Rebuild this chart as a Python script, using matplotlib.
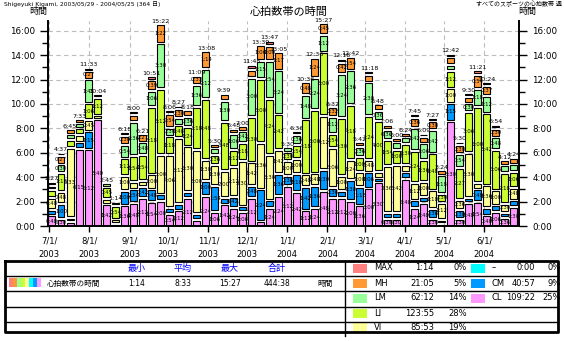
import numpy as np
import matplotlib.pyplot as plt

plt.rcParams['font.family'] = ['DejaVu Sans', 'Noto Sans CJK JP']

# weekly hours per heart rate zone (one value per week, 52 weeks)
CL = [0.8, 0.5, 0.25, 6.25, 6.2, 8.67, 1.7, 0.1, 1.6, 1.8,
      2.2, 1.9, 2.0, 0.9, 1.2, 2.2, 0.4, 2.4, 1.1, 1.7,
      1.4, 1.1, 2.2, 0.3, 1.4, 2.4, 3.2, 2.7, 1.2, 1.4,
      2.8, 2.2, 2.2, 2.0, 1.6, 3.0, 3.5, 0.5, 0.5, 3.8,
      1.4, 1.8, 0.5, 0.1, 8.5, 0.5, 1.8, 1.9, 0.8, 1.1,
      0.6, 1.5]
CM = [0.2, 1.0, 0.1, 0.3, 1.25, 0.0, 0.0, 0.0, 1.0, 0.9,
      0.7, 0.8, 0.3, 0.3, 0.3, 0.3, 0.3, 1.0, 1.9, 0.3,
      0.7, 0.2, 0.8, 2.4, 0.4, 1.6, 0.6, 1.3, 1.7, 1.6,
      1.5, 0.6, 0.4, 1.5, 1.3, 1.1, 0.1, 0.3, 0.3, 0.3,
      0.4, 0.3, 0.6, 0.1, 1.25, 0.5, 0.2, 0.8, 0.4, 0.3,
      0.2, 0.3]
VI = [0.8, 0.8, 5.55, 0.4, 0.75, 0.1, 0.2, 0.15, 1.0, 0.4,
      0.3, 1.0, 3.0, 4.1, 5.2, 3.5, 5.0, 1.5, 1.5, 2.0,
      2.2, 3.5, 1.7, 3.6, 3.5, 1.7, 1.0, 1.0, 0.8, 0.8,
      4.2, 3.1, 1.0, 1.4, 1.0, 0.8, 0.3, 3.6, 3.7, 0.4,
      1.2, 1.0, 1.3, 1.2, 1.0, 0.6, 3.5, 0.3, 1.6, 1.0,
      0.5, 0.8]
LI = [0.4, 1.3, 0.4, 0.3, 1.1, 1.2, 0.75, 0.9, 1.2, 1.9,
      1.9, 5.3, 5.2, 1.3, 0.8, 1.4, 3.3, 4.8, 0.6, 3.8,
      1.2, 1.3, 3.5, 5.0, 4.4, 2.7, 0.5, 0.9, 4.3, 5.0,
      5.0, 0.9, 4.5, 4.3, 1.0, 3.4, 4.0, 1.9, 1.0, 1.5,
      2.4, 1.6, 2.8, 0.5, 1.2, 2.45, 3.1, 6.0, 5.7, 3.1,
      2.3, 1.1]
LM = [0.15, 0.5, 0.25, 0.2, 1.75, 0.1, 0.1, 0.08, 0.9, 2.6,
      0.8, 1.1, 3.5, 0.5, 0.4, 0.6, 1.6, 2.2, 0.3, 1.5,
      1.1, 0.7, 3.0, 1.25, 2.9, 3.4, 0.2, 0.6, 1.8, 2.4,
      1.2, 1.2, 3.4, 2.6, 0.6, 2.5, 0.6, 0.6, 0.4, 0.3,
      1.7, 1.1, 1.7, 1.3, 0.3, 0.9, 0.5, 1.3, 1.2, 0.8,
      0.4, 0.4]
MH = [0.1, 0.45, 0.2, 0.1, 0.45, 0.0, 0.0, 0.0, 0.5, 0.35,
      0.45, 0.65, 1.37, 0.9, 0.5, 0.3, 0.55, 1.23, 0.1, 0.35,
      0.2, 0.2, 0.4, 1.1, 1.0, 1.28, 0.0, 0.1, 0.8, 1.4,
      0.75, 0.53, 0.7, 0.9, 0.2, 0.4, 0.3, 0.2, 0.1, 0.1,
      0.6, 0.3, 0.5, 0.2, 0.4, 0.5, 0.3, 0.9, 0.62, 0.5,
      0.2, 0.3]
MAX = [0.0, 0.07, 0.0, 0.0, 0.05, 0.0, 0.0, 0.0, 0.1, 0.05,
       0.0, 0.1, 0.0, 0.1, 0.05, 0.0, 0.0, 0.0, 0.0, 0.0,
       0.0, 0.0, 0.2, 0.0, 0.18, 0.0, 0.0, 0.0, 0.0, 0.0,
       0.0, 0.0, 0.1, 0.0, 0.0, 0.1, 0.0, 0.0, 0.0, 0.0,
       0.05, 0.05, 0.05, 0.0, 0.05, 0.05, 0.1, 0.15, 0.08, 0.1,
       0.0, 0.0]

zone_colors = ['#ff99ff', '#0099ff', '#ffff99', '#ccff33', '#99ff99', '#ff9933', '#ff8080']

month_days = [1, 32, 63, 93, 124, 154, 185, 216, 245, 276, 306, 337]
month_labels = ['7/1/\n2003', '8/1/\n2003', '9/1/\n2003', '10/1/\n2003', '11/1/\n2003',
                '12/1/\n2003', '1/1/\n2004', '2/1/\n2004', '3/1/\n2004', '4/1/\n2004',
                '5/1/\n2004', '6/1/\n2004']

# summary table / legend text
stat_heads = ['最小', '平均', '最大', '合計']
stat_values = ['1:14', '8:33', '15:27', '444:38']
legend_names = ['MAX', 'MH', 'LM', 'LI', 'VI', '–', 'CM', 'CL']
legend_times = ['1:14', '21:05', '62:12', '123:55', '85:53', '0:00', '40:57', '109:22']
legend_pct = ['0%', '5%', '14%', '28%', '19%', '0%', '9%', '25%']
legend_colors = ['#ff8080', '#ff9933', '#99ff99', '#ccff33', '#ffff99', '#00ffff', '#0099ff', '#ff99ff']


def hm(v):
    m = int(round(v * 60))
    return f'{m // 60}:{m % 60:02d}'


W, H = 564, 341
fig = plt.figure(figsize=(W / 100, H / 100), dpi=100)
ax = fig.add_axes([48 / W, 115 / H, 471 / W, 205 / H])

series = [CL, CM, VI, LI, LM, MH, MAX]
gap = 0.22
for i in range(len(CL)):
    x0 = 7 * i + 0.35
    base = 0.0
    total = 0.0
    for vals, col in zip(series, zone_colors):
        v = vals[i]
        if v <= 0:
            continue
        ax.bar(x0, v, width=5.4, bottom=base, align='edge', color=col,
               edgecolor='black', linewidth=0.8, zorder=2)
        if v >= 0.45:
            ax.text(x0 + 2.7, base + v / 2, hm(v), fontsize=3.9, ha='center',
                    va='center', zorder=3)
        base += v + gap
        total += v
    ax.text(x0 + 2.7, base - gap + 0.12, hm(total), fontsize=4.6, ha='center',
            va='bottom', zorder=3)

ax.set_xlim(0, 364)
ax.set_ylim(0, 16.8)
ax.set_yticks(range(0, 17, 2))
ax.set_yticklabels([f'{h}:00' for h in range(0, 17, 2)])
ax.set_yticks(range(1, 17, 2), minor=True)
ax.set_xticks(month_days)
ax.set_xticklabels(month_labels)
for t in ax.get_xticklabels():
    t.set_linespacing(1.7)
ax.tick_params(axis='y', which='both', direction='out', left=True, right=True,
               labelleft=True, labelright=True, labelsize=6.3, width=1)
ax.tick_params(axis='y', which='major', length=6)
ax.tick_params(axis='y', which='minor', length=4)
ax.tick_params(axis='x', direction='out', length=4, labelsize=6, width=1)
ax.grid(True, which='major', color='#bcbcbc', linestyle=(0, (4, 3)), linewidth=0.8, zorder=0)
ax.spines['top'].set_visible(False)
for s in ['left', 'right', 'bottom']:
    ax.spines[s].set_linewidth(1.4)

# header texts
fig.text(4 / W, 1 - 4 / H, 'Shigeyuki Kigami, 2003/05/29 - 2004/05/25 (364 日)',
         fontsize=4.3, ha='left', va='center')
fig.text(289 / W, 1 - 12 / H, '心拍数帯の時間', fontsize=8, ha='center', va='center')
fig.text(562 / W, 1 - 4 / H, 'すべてのスポーツの心拍数帯 週', fontsize=4.3, ha='right', va='center')
fig.text(38 / W, 1 - 11 / H, '時間', fontsize=6.5, ha='center', va='center')
fig.text(527 / W, 1 - 11 / H, '時間', fontsize=6.5, ha='center', va='center')

# summary table drawn in pixel coordinates
tb = fig.add_axes([0, 0, 1, 1])
tb.set_xlim(0, W)
tb.set_ylim(H, 0)
tb.axis('off')
tb.plot([5, 558, 558, 5, 5], [261, 261, 332, 332, 261], color='black', lw=2)
for yy in [276, 291, 307, 322]:
    tb.plot([5, 558], [yy, yy], color='black', lw=1)
tb.plot([345, 345], [261, 336], color='black', lw=1)

for xc, head, val in zip([137, 183, 230, 277], stat_heads, stat_values):
    tb.text(xc, 268, head, color='#0000ff', fontsize=6.5, ha='center', va='center')
    tb.text(xc, 283, val, fontsize=5.5, ha='center', va='center')
tb.text(325, 283, '時間', fontsize=5.5, ha='center', va='center')
tb.text(47, 283, '心拍数帯の時間', fontsize=5.5, ha='left', va='center')
for k, c in enumerate(legend_colors):
    tb.add_patch(plt.Rectangle((9 + 4 * k, 278), 4, 9, color=c, lw=0))

row_y = [268, 283, 298, 313, 327, 268, 283, 298]
for k, (nm, tm, pc, c) in enumerate(zip(legend_names, legend_times, legend_pct, legend_colors)):
    if k < 5:
        sx, nx, tx, px = 353, 374, 434, 467
    else:
        sx, nx, tx, px = 471, 492, 535, 561
    y = row_y[k]
    tb.add_patch(plt.Rectangle((sx, y - 4.5), 14, 9, color=c, lw=0))
    tb.text(nx, y, nm, fontsize=6, ha='left', va='center')
    tb.text(tx, y, tm, fontsize=6, ha='right', va='center')
    tb.text(px, y, pc, fontsize=6, ha='right', va='center')

fig.savefig('out.png', dpi=100)
